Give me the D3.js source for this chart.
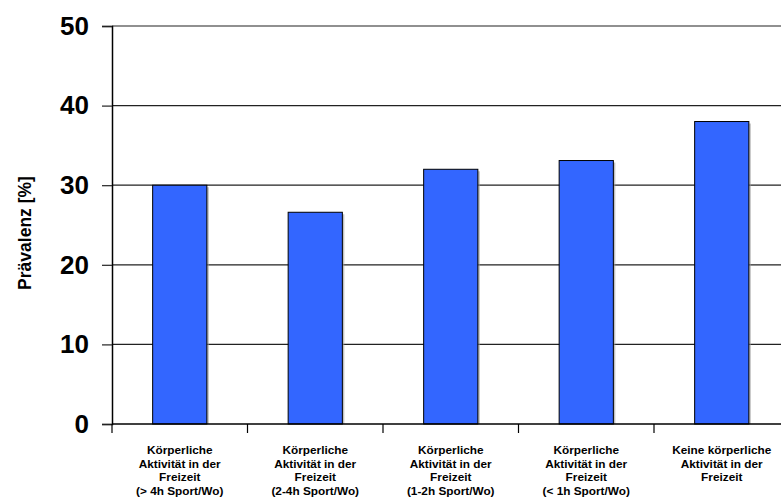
<!DOCTYPE html>
<html>
<head>
<meta charset="utf-8">
<script src="https://cdn.jsdelivr.net/npm/d3@7"></script>
<style>
  body { margin: 0; background: #fff; overflow: hidden; }
  text { font-family: Arial, "Liberation Sans", sans-serif; font-weight: bold; }
</style>
</head>
<body>
<div id="chart"></div>
<script>
// data
var categories = ["> 4h", "2-4h", "1-2h", "< 1h", "keine"];
var categoryLabels = [
    ["Körperliche", "Aktivität in der", "Freizeit", "(> 4h Sport/Wo)"],
    ["Körperliche", "Aktivität in der", "Freizeit", "(2-4h Sport/Wo)"],
    ["Körperliche", "Aktivität in der", "Freizeit", "(1-2h Sport/Wo)"],
    ["Körperliche", "Aktivität in der", "Freizeit", "(< 1h Sport/Wo)"],
    ["Keine körperliche", "Aktivität in der", "Freizeit"]
];
var prevalence = [30, 26.6, 32, 33.1, 38];
var yTicks = [0, 10, 20, 30, 40, 50];
var yLabel = "Prävalenz [%]";

var svgWidth = 781, svgHeight = 501;
var margin = {top: 26, left: 112, bottom: 77};
var chartHeight = svgHeight - margin.top - margin.bottom;
var chartWidth = 677.5; // runs past the right edge like the original

var svg = d3.select("#chart").append("svg")
    .attr("width", svgWidth)
    .attr("height", svgHeight);

var g = svg.append("g")
    .attr("transform", `translate(${margin.left}, ${margin.top})`);

var xScale = d3.scaleBand().domain(categories).range([0, chartWidth]).padding(0);
var yScale = d3.scaleLinear().domain([0, 50]).range([chartHeight, 0]);

// gridlines
g.selectAll(".grid")
    .data(yTicks.filter(t => t > 0))
    .enter()
    .append("line")
    .attr("class", "grid")
    .attr("x1", 0)
    .attr("x2", chartWidth)
    .attr("y1", d => yScale(d))
    .attr("y2", d => yScale(d))
    .style("stroke", "#222")
    .style("stroke-width", 1.2);

// bars (with the little gray shadow on the right)
var bw = xScale.bandwidth() * 0.4;
var barX = d => xScale(d) + (xScale.bandwidth() - bw) / 2;

g.selectAll(".shadow")
    .data(categories)
    .enter()
    .append("rect")
    .attr("x", d => barX(d) + 2)
    .attr("y", (d, i) => yScale(prevalence[i]) + 2)
    .attr("width", bw)
    .attr("height", (d, i) => chartHeight - yScale(prevalence[i]) - 2)
    .style("fill", "#999")
    .style("opacity", 0.6);

g.selectAll(".bar")
    .data(categories)
    .enter()
    .append("rect")
    .attr("class", "bar")
    .attr("x", barX)
    .attr("y", (d, i) => yScale(prevalence[i]))
    .attr("width", bw)
    .attr("height", (d, i) => chartHeight - yScale(prevalence[i]))
    .style("fill", "#3366ff")
    .style("stroke", "#000")
    .style("stroke-width", 1);

// y axis
var yAxis = d3.axisLeft(yScale).tickValues(yTicks).tickSize(10).tickPadding(13);
var yG = g.append("g").call(yAxis);
yG.select(".domain").style("stroke", "#000").style("stroke-width", 1.5);
yG.selectAll(".tick line").style("stroke", "#222").style("stroke-width", 1.2);
yG.selectAll(".tick text")
    .style("font-size", "26px")
    .style("font-family", "Arial, 'Liberation Sans', sans-serif")
    .style("font-weight", "bold")
    .attr("fill", "#000");

// x axis line + boundary ticks
g.append("line")
    .attr("x1", 0).attr("x2", chartWidth)
    .attr("y1", chartHeight).attr("y2", chartHeight)
    .style("stroke", "#000").style("stroke-width", 1.5);

g.selectAll(".xtick")
    .data(categories)
    .enter()
    .append("line")
    .attr("x1", d => xScale(d)).attr("x2", d => xScale(d))
    .attr("y1", chartHeight).attr("y2", chartHeight + 9)
    .style("stroke", "#000").style("stroke-width", 1.2);

// category labels
var labels = g.selectAll(".catLabel")
    .data(categories)
    .enter()
    .append("text")
    .attr("class", "catLabel")
    .attr("x", d => xScale(d) + xScale.bandwidth() / 2)
    .attr("y", chartHeight + 30)
    .style("text-anchor", "middle")
    .style("font-size", "11.8px");

labels.each(function(d, i) {
    var t = d3.select(this);
    categoryLabels[i].forEach((line, j) => {
        t.append("tspan")
            .attr("x", xScale(d) + xScale.bandwidth() / 2)
            .attr("dy", j === 0 ? 0 : 13.7)
            .text(line);
    });
});

// y axis title
svg.append("text")
    .attr("transform", `translate(31, ${margin.top + chartHeight / 2 + 8}) rotate(-90)`)
    .style("text-anchor", "middle")
    .style("font-size", "17.5px")
    .text(yLabel);
</script>
</body>
</html>
